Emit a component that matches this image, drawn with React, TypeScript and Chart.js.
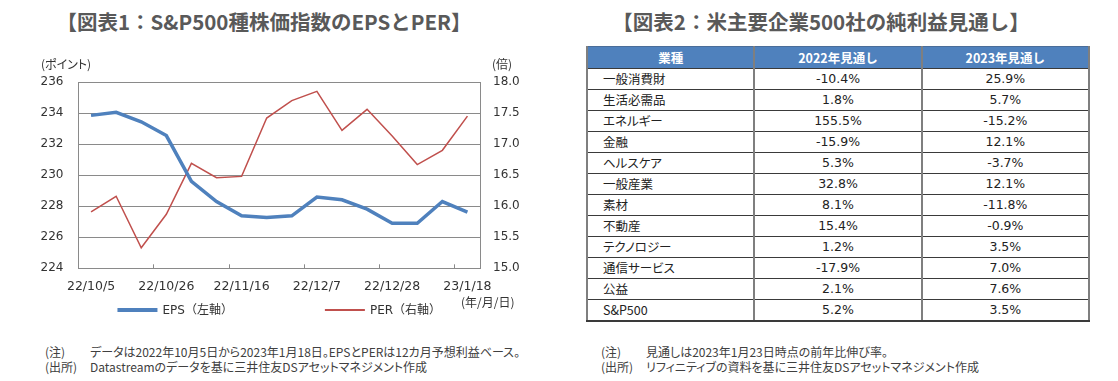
import React, { useEffect, useRef } from "react";
import { Chart, registerables } from "chart.js";

Chart.register(...registerables);

// ---- data ----
const dates = [
  "22/10/5", "22/10/12", "22/10/19", "22/10/26", "22/11/2", "22/11/9", "22/11/16", "22/11/23",
  "22/11/30", "22/12/7", "22/12/14", "22/12/21", "22/12/28", "23/1/4", "23/1/11", "23/1/18",
];
const epsValues = [233.85, 234.05, 233.44, 232.55, 229.6, 228.3, 227.38, 227.27, 227.38, 228.59, 228.41, 227.81, 226.9, 226.9, 228.3, 227.62];
const perValues = [15.91, 16.16, 15.33, 15.87, 16.69, 16.46, 16.48, 17.42, 17.7, 17.85, 17.22, 17.56, 17.13, 16.67, 16.9, 17.45];
const labelEvery = 3;

const sectors = ["一般消費財", "生活必需品", "エネルギー", "金融", "ヘルスケア", "一般産業", "素材", "不動産", "テクノロジー", "通信サービス", "公益", "S&P500"];
const outlook2022 = [-10.4, 1.8, 155.5, -15.9, 5.3, 32.8, 8.1, 15.4, 1.2, -17.9, 2.1, 5.2];
const outlook2023 = [25.9, 5.7, -15.2, 12.1, -3.7, 12.1, -11.8, -0.9, 3.5, 7.0, 7.6, 3.5];
const tableHeaders = ["業種", "2022年見通し", "2023年見通し"];

const LATIN = '"DejaVu Sans", "Noto Sans CJK JP", sans-serif';
const CJK = '"Noto Sans CJK JP", "DejaVu Sans", sans-serif';
const GRID = "#8a8a8a";
const TEXT = "#333333";

Chart.defaults.font.family = LATIN;

const lineLegend = {
  id: "lineLegend",
  afterDraw(chart: any) {
    const opts = chart.options.plugins.lineLegend;
    if (!opts) return;
    const { ctx, chartArea } = chart;
    ctx.save();
    ctx.font = `${opts.fontSize}px ${LATIN}`;
    const items = chart.data.datasets.map((ds: any) => ({
      text: ds.label,
      color: ds.borderColor,
      thick: ds.legendThickness,
    }));
    const widths = items.map((it: any) => opts.sample + opts.gap + ctx.measureText(it.text).width);
    const total = widths.reduce((a: number, b: number) => a + b, 0) + opts.spacing * (items.length - 1);
    let x = (chartArea.left + chartArea.right) / 2 - total / 2 + opts.shift;
    items.forEach((it: any, i: number) => {
      ctx.strokeStyle = it.color;
      ctx.lineWidth = it.thick;
      ctx.beginPath();
      ctx.moveTo(x, opts.y);
      ctx.lineTo(x + opts.sample, opts.y);
      ctx.stroke();
      ctx.fillStyle = TEXT;
      ctx.textBaseline = "middle";
      ctx.textAlign = "left";
      ctx.fillText(it.text, x + opts.sample + opts.gap, opts.y + 1);
      x += widths[i] + opts.spacing;
    });
    ctx.restore();
  },
};

function LineChart() {
  const ref = useRef<HTMLCanvasElement>(null);
  useEffect(() => {
    if (!ref.current) return;
    const chart = new Chart(ref.current, {
      type: "line",
      data: {
        labels: dates,
        datasets: [
          {
            label: "EPS（左軸）",
            data: epsValues,
            borderColor: "#4F81BD",
            borderWidth: 3.5,
            pointRadius: 0,
            tension: 0,
            yAxisID: "y",
            legendThickness: 4,
          } as any,
          {
            label: "PER（右軸）",
            data: perValues,
            borderColor: "#C0504D",
            borderWidth: 1.5,
            pointRadius: 0,
            tension: 0,
            yAxisID: "y1",
            legendThickness: 2,
          } as any,
        ],
      },
      options: {
        responsive: false,
        animation: false,
        devicePixelRatio: 1,
        layout: { padding: { top: 82, bottom: 21.7, left: 0, right: 0 } },
        plugins: {
          legend: { display: false },
          tooltip: { enabled: false },
          lineLegend: { y: 310, sample: 40, gap: 5, spacing: 92, fontSize: 12, shift: 0 },
        } as any,
        scales: {
          x: {
            type: "category",
            offset: true,
            grid: {
              display: true,
              offset: true,
              drawOnChartArea: false,
              drawTicks: true,
              tickLength: -4,
              tickColor: (c: any) => (c.index % labelEvery === 0 ? GRID : "rgba(0,0,0,0)"),
            },
            border: { color: GRID, width: 1 },
            ticks: {
              autoSkip: false,
              maxRotation: 0,
              minRotation: 0,
              padding: 15,
              color: TEXT,
              font: { family: LATIN, size: 12.5 },
              callback: (_v: any, i: number) => (i % labelEvery === 0 ? dates[i] : ""),
            },
            afterFit: (s: any) => {
              s.height = 40;
            },
          },
          y: {
            position: "left",
            min: 224,
            max: 236,
            ticks: { stepSize: 2, padding: 15, color: TEXT, font: { family: LATIN, size: 12 } },
            grid: { color: GRID, lineWidth: 1, drawTicks: false },
            border: { color: GRID, width: 1 },
            afterFit: (s: any) => {
              s.width = 78.5;
            },
          },
          y1: {
            position: "right",
            min: 15,
            max: 18,
            ticks: {
              stepSize: 0.5,
              padding: 13,
              color: TEXT,
              font: { family: LATIN, size: 12 },
              callback: (v: any) => Number(v).toFixed(1),
            },
            grid: { drawOnChartArea: false, drawTicks: false },
            border: { color: GRID, width: 1 },
            afterFit: (s: any) => {
              s.width = 80;
            },
          },
        },
      },
      plugins: [lineLegend],
    } as any);
    return () => chart.destroy();
  }, []);
  return <canvas ref={ref} width={560} height={330} style={{ position: "absolute", left: 0, top: 0, width: 560, height: 330 }} />;
}

const fmt = (v: number) => v.toFixed(1) + "%";

function Table() {
  const vBorder = "2px solid #7f7f7f";
  const hBorder = "1px solid #3a3a3a";
  const cell: React.CSSProperties = {
    borderLeft: vBorder,
    borderRight: vBorder,
    borderTop: hBorder,
    borderBottom: hBorder,
    height: 20,
    padding: 0,
    fontSize: 12.5,
    color: "#222",
    fontFamily: LATIN,
    lineHeight: "20px",
  };
  return (
    <table
      style={{
        position: "absolute",
        left: 586,
        top: 46,
        width: 504,
        borderCollapse: "collapse",
        tableLayout: "fixed",
      }}
    >
      <thead>
        <tr>
          {tableHeaders.map((h) => (
            <th
              key={h}
              style={{
                ...cell,
                height: 21,
                background: "#4F81BD",
                color: "#fff",
                fontWeight: "bold",
                textAlign: "center",
                fontFamily: CJK,
                borderTop: "1px solid #4a6d99",
              }}
            >
              {h}
            </th>
          ))}
        </tr>
      </thead>
      <tbody>
        {sectors.map((s, i) => {
          const last = i === sectors.length - 1;
          const b = last ? { borderBottom: "2px solid #3a3a3a" } : {};
          return (
            <tr key={s}>
              <td style={{ ...cell, ...b, textAlign: "left", paddingLeft: 15, fontFamily: CJK, fontFeatureSettings: '"palt"' }}>{s}</td>
              <td style={{ ...cell, ...b, textAlign: "center" }}>{fmt(outlook2022[i])}</td>
              <td style={{ ...cell, ...b, textAlign: "center" }}>{fmt(outlook2023[i])}</td>
            </tr>
          );
        })}
      </tbody>
    </table>
  );
}

const titleStyle: React.CSSProperties = {
  position: "absolute",
  top: 8,
  fontFamily: CJK,
  fontWeight: "bold",
  fontSize: 20.5,
  color: "#595959",
  whiteSpace: "nowrap",
  transform: "translateX(-50%)",
  lineHeight: "26px",
};

const noteStyle: React.CSSProperties = {
  position: "absolute",
  fontFamily: CJK,
  fontFeatureSettings: '"palt"',
  fontSize: 12,
  color: "#404040",
  whiteSpace: "nowrap",
  lineHeight: "15px",
};

function Note({ x, y, tag, text, indent }: { x: number; y: number; tag: string; text: string; indent: number }) {
  return (
    <div style={{ ...noteStyle, left: x, top: y }}>
      <span style={{ display: "inline-block", width: indent }}>{tag}</span>
      <span>{text}</span>
    </div>
  );
}

export default function App() {
  return (
    <div style={{ position: "fixed", left: 0, top: 0, width: 1118, height: 381, background: "#fff", overflow: "hidden" }}>
      <div style={{ ...titleStyle, left: 264 }}>【図表1：S&amp;P500種株価指数のEPSとPER】</div>
      <div style={{ ...titleStyle, left: 821 }}>【図表2：米主要企業500社の純利益見通し】</div>
      <LineChart />
      <div style={{ ...noteStyle, left: 41, top: 56, fontSize: 12, color: TEXT }}>(ポイント)</div>
      <div style={{ ...noteStyle, left: 492, top: 56, fontSize: 12, color: TEXT }}>(倍)</div>
      <div style={{ ...noteStyle, left: 461, top: 294, fontSize: 12, color: TEXT }}>(年/月/日)</div>
      <Note x={45} y={344} tag="(注)" indent={45} text="データは2022年10月5日から2023年1月18日。EPSとPERは12カ月予想利益ベース。" />
      <Note x={45} y={359} tag="(出所)" indent={45} text="Datastreamのデータを基に三井住友DSアセットマネジメント作成" />
      <Table />
      <Note x={601} y={344} tag="(注)" indent={45} text="見通しは2023年1月23日時点の前年比伸び率。" />
      <Note x={601} y={359} tag="(出所)" indent={45} text="リフィニティブの資料を基に三井住友DSアセットマネジメント作成" />
    </div>
  );
}
